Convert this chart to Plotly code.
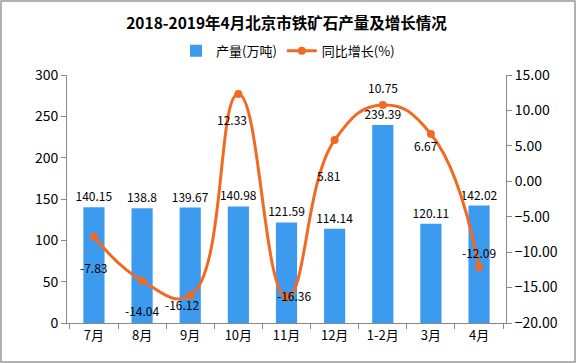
import plotly.graph_objects as go

categories = ["7月", "8月", "9月", "10月", "11月", "12月", "1-2月", "3月", "4月"]
output_vals = [140.15, 138.8, 139.67, 140.98, 121.59, 114.14, 239.39, 120.11, 142.02]
growth_vals = [-7.83, -14.04, -16.12, 12.33, -16.36, 5.81, 10.75, 6.67, -12.09]

# label offsets (px) for growth labels
label_dx = [0, 0, -8, -6, 7, -6, 0, -5, 0]
label_dy = [-31, -30, -9, -26, 2, -35, 18, -11, 14]

FONT = "Noto Sans CJK SC"
W, H = 576, 363
ml, mr, mt, mb = 67, 70, 75, 40

fig = go.Figure()
fig.add_trace(go.Bar(
    x=categories, y=output_vals, name="产量(万吨)",
    marker=dict(color="#3d9bef", line=dict(width=0)),
    width=0.44,
    text=[f"{v:g}" for v in output_vals], textposition="outside",
    constraintext="none",
    textfont=dict(size=12, color="#000000", family=FONT),
    cliponaxis=False,
))
fig.add_trace(go.Scatter(
    x=categories, y=growth_vals, name="同比增长(%)", yaxis="y2",
    mode="lines+markers",
    line=dict(color="#f26a22", width=3, shape="spline", smoothing=1.3),
    marker=dict(size=8, color="#f26a22"),
    cliponaxis=False,
))

for c, v, dx, dy in zip(categories, growth_vals, label_dx, label_dy):
    fig.add_annotation(x=c, y=v, xref="x", yref="y2", text=f"{v:.2f}",
                       showarrow=False, xshift=dx, yshift=dy,
                       font=dict(size=12, color="#000000", family=FONT))

pw = W - ml - mr
ph = H - mt - mb
fig.add_shape(type="rect", xref="paper", yref="paper",
              x0=-(ml - 1) / pw, x1=1 + (mr - 1) / pw,
              y0=-(mb - 1) / ph, y1=1 + (mt - 1) / ph,
              line=dict(color="#999999", width=1.5), layer="below")

fig.update_layout(
    width=W, height=H,
    margin=dict(l=ml, r=mr, t=mt, b=mb, autoexpand=False),
    paper_bgcolor="white", plot_bgcolor="white",
    font=dict(family=FONT, size=12, color="#000000"),
    title=dict(text="<b>2018-2019年4月北京市铁矿石产量及增长情况</b>",
               x=0.5, xref="paper", xanchor="center", y=0.935, yanchor="middle",
               font=dict(size=15.5, family=FONT)),
    legend=dict(orientation="h", x=0.5, xanchor="center", y=0.86, yref="container",
                yanchor="middle", xref="container",
                font=dict(size=13, family=FONT), traceorder="normal"),
    showlegend=True,
    bargap=0.5,
    xaxis=dict(showline=True, linecolor="#888888", linewidth=1,
               ticks="outside", tickcolor="#888888", ticklen=5, automargin=False,
               tickson="boundaries", tickfont=dict(size=13), showgrid=False),
    yaxis=dict(range=[0, 300], dtick=50, showline=True, linecolor="#888888",
               ticks="outside", tickcolor="#888888", ticklen=5, automargin=False,
               showgrid=False, zeroline=False, tickfont=dict(size=14)),
    yaxis2=dict(range=[-20, 15], dtick=5, overlaying="y", side="right",
                showline=True, linecolor="#888888", ticks="outside", automargin=False,
                tickcolor="#888888", ticklen=5, tickformat=".2f",
                showgrid=False, zeroline=False, tickfont=dict(size=14)),
)

fig.write_html("out.html", config={"displayModeBar": False},
               post_script="document.body.style.margin='0';document.body.style.padding='0';")
